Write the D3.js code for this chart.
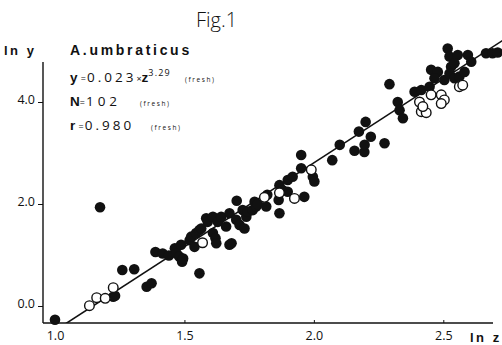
<!DOCTYPE html>
<html><head><meta charset="utf-8">
<script src="https://cdn.jsdelivr.net/npm/d3@7"></script>
<style>
html,body{margin:0;padding:0;background:#fff;}
svg{display:block;}
text{font-family:"Open Sans","DejaVu Sans",sans-serif;fill:#111;}
</style></head>
<body>
<script>
// ln z, ln y (filled = fresh specimens)
const filledPts = [
[1.000,-0.27],[1.174,1.935],[1.225,0.18],[1.232,0.20],[1.260,0.706],[1.306,0.72],
[1.354,0.378],[1.373,0.445],[1.388,1.06],[1.416,1.03],[1.44,0.99],[1.463,1.13],[1.47,1.03],
[1.48,0.97],[1.487,1.2],[1.491,0.87],[1.495,0.93],[1.52,1.29],[1.526,1.36],[1.539,1.16],
[1.545,1.43],[1.558,1.49],[1.558,0.64],[1.565,1.52],[1.584,1.72],[1.59,1.65],[1.61,1.75],
[1.61,1.43],[1.62,1.33],[1.623,1.23],[1.629,1.65],[1.642,1.75],[1.661,1.56],[1.674,1.82],
[1.674,1.20],[1.682,1.23],[1.70,1.69],[1.702,2.065],[1.713,1.59],[1.725,1.88],[1.732,1.52],
[1.739,1.75],[1.745,1.85],[1.764,1.88],[1.771,2.045],[1.777,1.95],[1.783,2.0],[1.816,1.95],
[1.82,2.18],[1.864,2.08],[1.867,2.37],[1.867,1.82],[1.88,2.27],[1.899,2.24],[1.899,2.47],
[1.918,2.535],[1.951,2.96],[1.951,2.70],[1.963,2.14],[1.996,2.535],[2.002,2.44],[2.071,2.86],
[2.10,3.16],[2.157,3.045],[2.174,3.42],[2.195,3.02],[2.196,3.16],[2.20,3.61],[2.22,3.32],
[2.273,3.19],[2.292,4.35],[2.324,4.0],[2.331,3.84],[2.344,3.68],[2.389,4.2],[2.415,4.235],
[2.447,4.30],[2.453,4.63],[2.479,4.59],[2.466,4.465],[2.504,4.43],[2.517,5.05],[2.524,4.89],
[2.556,4.92],[2.53,4.69],[2.524,4.56],[2.543,4.465],[2.562,4.50],[2.582,4.59],[2.595,4.92],
[2.608,4.79],[2.543,4.76],[2.665,4.955],[2.69,4.955],[2.71,4.97]
];
const openPts = [
[1.133,0.006],[1.161,0.163],[1.194,0.151],[1.225,0.36],[1.57,1.24],[1.809,2.13],[1.867,2.22],
[1.925,2.11],[1.99,2.67],[2.408,4.0],[2.415,3.81],[2.434,3.79],[2.421,3.91],[2.453,4.14],
[2.492,4.14],[2.504,4.04],[2.492,3.97],[2.562,4.30],[2.575,4.33]
];
const xTicks = [1.0,1.5,2.0,2.5];
const yTicks = [0.0,2.0,4.0];
const regA = 0.023, regB = 3.29; // y = a * z^b

const W = 502, H = 345;
const svg = d3.select("body").append("svg").attr("width",W).attr("height",H);
const x = d3.scaleLinear().domain([1.0,2.5]).range([55,443.3]);
const y = d3.scaleLinear().domain([0,4]).range([306,102]);
const axX = 43, axY = 323, axTop = 62, axRight = 493;

svg.append("clipPath").attr("id","plot").append("rect")
  .attr("x",axX).attr("y",0).attr("width",W-axX).attr("height",axY);

const lineData = [0.95, 2.8].map(lz => [lz, Math.log(regA) + regB*lz]);
svg.append("path").attr("clip-path","url(#plot)")
  .attr("d", d3.line().x(d=>x(d[0])).y(d=>y(d[1]))(lineData))
  .attr("stroke","#111").attr("stroke-width",1.6).attr("fill","none");

svg.append("line").attr("x1",axX).attr("x2",axX).attr("y1",axTop).attr("y2",axY)
  .attr("stroke","#111").attr("stroke-width",1.4);
svg.append("line").attr("x1",axX).attr("x2",axRight).attr("y1",axY).attr("y2",axY)
  .attr("stroke","#111").attr("stroke-width",1.4);

const gy = svg.append("g").attr("transform",`translate(${axX},0)`)
  .call(d3.axisLeft(y).tickValues(yTicks).tickSize(5).tickPadding(3).tickFormat(d3.format(".1f")));
gy.select(".domain").remove();
gy.selectAll("text").attr("dy","0.15em").style("font-size","12.5px").style("font-family","'Open Sans',sans-serif").attr("fill","#111");
gy.selectAll("line").attr("stroke","#111");

const gx = svg.append("g").attr("transform",`translate(0,${axY})`)
  .call(d3.axisBottom(x).tickValues(xTicks).tickSize(-3).tickFormat(d3.format(".1f")));
gx.select(".domain").remove();
gx.selectAll("text").attr("y",17).attr("dy","0").style("font-size","12.5px").style("font-family","'Open Sans',sans-serif").attr("fill","#111");
gx.selectAll("line").attr("stroke","#111");

svg.append("g").selectAll("circle").data(filledPts).join("circle")
  .attr("cx",d=>x(d[0])).attr("cy",d=>y(d[1])).attr("r",5.3).attr("fill","#111");
svg.append("g").selectAll("circle").data(openPts).join("circle")
  .attr("cx",d=>x(d[0])).attr("cy",d=>y(d[1])).attr("r",4.8)
  .attr("fill","#fff").attr("stroke","#111").attr("stroke-width",1.4);

const boldF = "'Liberation Sans',Arial,sans-serif";
svg.append("text").attr("x",196).attr("y",27).text("Fig.1")
  .style("font-size","20px").style("font-weight","300");
svg.append("text").attr("x",4).attr("y",55).text("ln y")
  .style("font-size","13px").style("font-weight","bold").style("letter-spacing","2.5px")
  .style("font-family",boldF);
svg.append("text").attr("x",470).attr("y",342).text("ln z")
  .style("font-size","13px").style("font-weight","bold").style("letter-spacing","2.5px")
  .style("font-family",boldF);
svg.append("text").attr("x",70).attr("y",55).text("A.umbraticus")
  .style("font-size","14px").style("font-weight","bold").style("letter-spacing","2.7px")
  .style("font-family",boldF);

const eq = svg.append("text").attr("x",70).attr("y",82).style("font-size","13.5px");
eq.append("tspan").text("y").style("font-weight","bold").style("font-family",boldF);
eq.append("tspan").text(" =").style("font-size","9px").style("letter-spacing","1px");
eq.append("tspan").text("0.023").style("letter-spacing","3px");
eq.append("tspan").text("×").style("font-size","9px");
eq.append("tspan").text("z").style("font-weight","bold").style("font-family",boldF);
eq.append("tspan").text("3.29").attr("dy",-6.5).style("font-size","9px").style("letter-spacing","1.2px");
svg.append("text").attr("x",185).attr("y",82).text("(fresh)")
  .style("font-size","6.5px").style("letter-spacing","1.6px");

const nT = svg.append("text").attr("x",70).attr("y",106).style("font-size","13.5px");
nT.append("tspan").text("N").style("font-weight","bold").style("font-family",boldF);
nT.append("tspan").text("=").style("font-size","9px").style("letter-spacing","1px");
nT.append("tspan").text("102").style("letter-spacing","4px");
svg.append("text").attr("x",140).attr("y",106).text("(fresh)")
  .style("font-size","6.5px").style("letter-spacing","1.6px");

const rT = svg.append("text").attr("x",70).attr("y",130).style("font-size","13.5px");
rT.append("tspan").text("r").style("font-weight","bold").style("font-family",boldF);
rT.append("tspan").text(" =").style("font-size","9px").style("letter-spacing","1px");
rT.append("tspan").text("0.980").style("letter-spacing","3px");
svg.append("text").attr("x",151).attr("y",130).text("(fresh)")
  .style("font-size","6.5px").style("letter-spacing","1.6px");
</script>
</body></html>
